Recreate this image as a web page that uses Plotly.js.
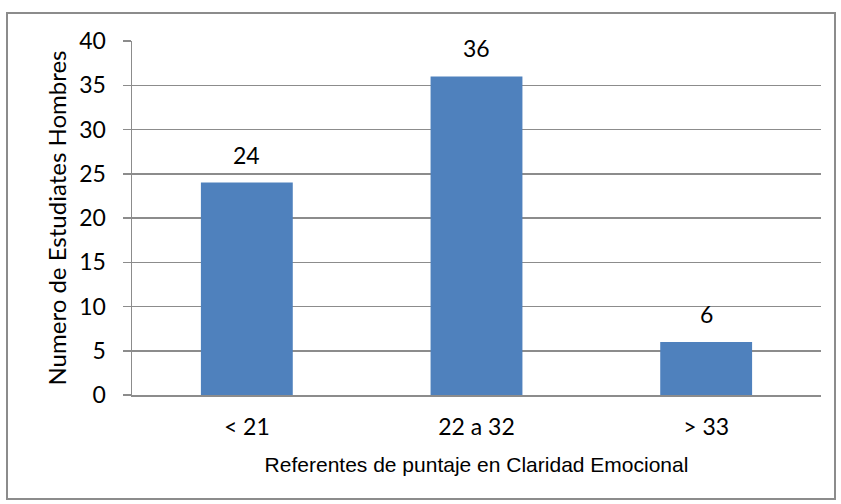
<!DOCTYPE html>
<html><head><meta charset="utf-8">
<script src="https://cdn.plot.ly/plotly-3.0.1.min.js"></script>
<style>
html,body{margin:0;padding:0;background:#fff;}
#chart{width:841px;height:504px;}
#frame{position:absolute;left:6px;top:12px;width:826px;height:484px;border:2px solid #8c8c8c;pointer-events:none;}
</style></head>
<body>
<div id="chart"></div>
<div id="frame"></div>
<script>
const categories = ["< 21", "22 a 32", "> 33"];
const values = [24, 36, 6];
const yTicks = [0, 5, 10, 15, 20, 25, 30, 35, 40];
const xTitle = "Referentes de puntaje en Claridad Emocional";
const yTitle = "Numero de Estudiates Hombres";

const tickFont = {family: "Lato, 'Open Sans', sans-serif", size: 23, color: "#000"};
const xTitleFont = {family: "'Liberation Sans', Arial, sans-serif", size: 21, color: "#000"};
const yTitleFont = {family: "Lato, 'Open Sans', sans-serif", size: 24, color: "#000"};

const trace = {
  type: "bar",
  x: categories,
  y: values,
  marker: {color: "#4F81BD"},
  width: 0.4,
  hoverinfo: "skip"
};

const annotations = categories.map((c, i) => ({
  x: c, y: values[i], xref: "x", yref: "y",
  text: String(values[i]), showarrow: false,
  yanchor: "bottom", yshift: 12,
  font: tickFont
}));

const layout = {
  width: 841, height: 504,
  margin: {l: 132, r: 20, t: 41, b: 109},
  paper_bgcolor: "#fff", plot_bgcolor: "#fff",
  showlegend: false,
  bargap: 0.6,
  xaxis: {
    type: "category",
    showgrid: false,
    showline: true, linecolor: "#8c8c8c", linewidth: 2,
    ticks: "", tickfont: tickFont, ticklabelstandoff: 10,
    title: {text: xTitle, font: xTitleFont, standoff: 19},
    zeroline: false
  },
  yaxis: {
    range: [0, 40],
    tickvals: yTicks,
    ticktext: yTicks.map(String),
    showgrid: true, gridcolor: "#8c8c8c", gridwidth: 1.5,
    showline: true, linecolor: "#8c8c8c", linewidth: 1.5,
    ticks: "outside", ticklen: 8, tickcolor: "#8c8c8c", tickwidth: 1.5,
    tickfont: tickFont, ticklabelstandoff: 12,
    zeroline: false,
    title: {text: yTitle, font: yTitleFont, standoff: 6}
  },
  annotations: annotations
};

Plotly.newPlot("chart", [trace], layout, {displayModeBar: false, staticPlot: true});
</script>
</body></html>
